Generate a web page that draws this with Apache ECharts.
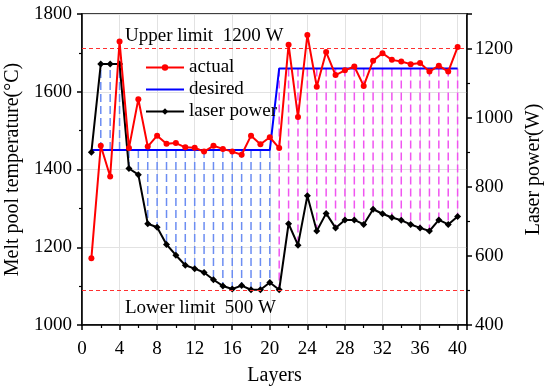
<!DOCTYPE html>
<html><head><meta charset="utf-8">
<script src="https://cdn.jsdelivr.net/npm/echarts@6/dist/echarts.min.js"></script>
<style>html,body{margin:0;padding:0;background:#fff}#c{width:550px;height:387px}</style>
</head><body><div id="c"></div>
<script>
const layers = [1,2,3,4,5,6,7,8,9,10,11,12,13,14,15,16,17,18,19,20,21,22,23,24,25,26,27,28,29,30,31,32,33,34,35,36,37,38,39,40];
const actualTemp = [1172,1461,1382,1729,1455,1581,1459,1487,1466,1468,
                    1457,1456,1446,1461,1453,1446,1438,1487,1465,1483,
                    1455,1721,1535,1746,1613,1702,1643,1655,1665,1615,
                    1680,1699,1682,1678,1671,1674,1652,1667,1652,1715];
const desiredTemp = [1450,1450,1450,1450,1450,1450,1450,1450,1450,1450,
                     1450,1450,1450,1450,1450,1450,1450,1450,1450,1450,
                     1660,1660,1660,1660,1660,1660,1660,1660,1660,1660,
                     1660,1660,1660,1660,1660,1660,1660,1660,1660,1660];
const laserPower = [900,1155,1155,1155,853,835,693,683,633,602,
                    573,563,552,531,513,504,514,502,502,523,
                    502,693,631,774,672,723,681,704,704,691,
                    735,722,711,703,691,681,672,704,691,714];
const limitValues = [1200, 500];
const limitLabels = ['Upper limit  1200 W', 'Lower limit  500 W'];
const seriesNames = ['actual', 'desired', 'laser power'];
const phaseSplit = 20; // layers 1-20 phase 1, 21-40 phase 2

const FONT = 'Liberation Serif';
const chart = echarts.init(document.getElementById('c'));

function dashData(from, to) {
  const out = [];
  for (let i = from; i < to; i++) out.push([layers[i], desiredTemp[i], laserPower[i]]);
  return out;
}
function dashRender(color) {
  return function (params, api) {
    const top = api.coord([api.value(0), api.value(1)]);
    const py = chart.convertToPixel({yAxisIndex: 1}, api.value(2));
    return {
      type: 'line',
      shape: {x1: top[0], y1: top[1], x2: top[0], y2: py},
      style: {stroke: color, lineWidth: 1.5, lineDash: [8, 4]}
    };
  };
}
const plain = v => String(v);

const axisCommon = {
  axisLine: {show: true, lineStyle: {color: '#000', width: 1.5}},
  axisTick: {show: true, length: 5, lineStyle: {color: '#000', width: 1.5}},
  minorTick: {show: true, splitNumber: 2, length: 3, lineStyle: {color: '#000', width: 1.2}},
  axisLabel: {color: '#000', fontSize: 19, fontFamily: FONT, showMaxLabel: false, formatter: plain},
  nameTextStyle: {color: '#000', fontSize: 20, fontFamily: FONT}
};

// plain horizontal line legend icon (bounding corners keep the box size)
const lineIcon = 'path://M0,0L0.01,0L0,0.01ZM0,3L38,3L38,5L0,5ZM38,8L37.99,8L38,7.99Z';

chart.setOption({
  animation: false,
  backgroundColor: '#fff',
  textStyle: {fontFamily: FONT},
  grid: {left: 82, right: 83, top: 14, bottom: 62, show: true, borderColor: '#000', borderWidth: 1.5,
         backgroundColor: 'transparent', containLabel: false, outerBoundsMode: 'none'},
  legend: {
    data: [
      {name: seriesNames[0]},
      {name: seriesNames[1], icon: lineIcon},
      {name: seriesNames[2]}
    ],
    orient: 'vertical', left: 145, top: 58, padding: 0,
    itemWidth: 38, itemHeight: 8, itemGap: 3,
    textStyle: {color: '#000', fontSize: 19, fontFamily: FONT}
  },
  xAxis: Object.assign({}, axisCommon, {
    type: 'value', min: 0, max: 41, interval: 4,
    axisLabel: Object.assign({}, axisCommon.axisLabel, {margin: 15}),
    splitLine: {show: true, lineStyle: {color: '#e2e2e2', width: 1}},
    name: 'Layers', nameLocation: 'middle', nameGap: 41
  }),
  yAxis: [
    Object.assign({}, axisCommon, {
      type: 'value', min: 1000, max: 1800, interval: 200, position: 'left',
      axisLabel: Object.assign({}, axisCommon.axisLabel, {margin: 10, showMaxLabel: true}),
      splitLine: {show: true, lineStyle: {color: '#e2e2e2', width: 1}},
      name: 'Melt pool temperature(°C)', nameLocation: 'middle', nameGap: 48
    }),
    Object.assign({}, axisCommon, {
      type: 'value', min: 400, max: 1300, interval: 200, position: 'right',
      axisLabel: Object.assign({}, axisCommon.axisLabel, {margin: 8}),
      splitLine: {show: false},
      name: 'Laser power(W)', nameLocation: 'middle', nameGap: 57
    })
  ],
  series: [
    {type: 'custom', name: 'dash1', silent: true, z: 1, xAxisIndex: 0, yAxisIndex: 0,
     data: dashData(0, phaseSplit), renderItem: dashRender('#6c8df2')},
    {type: 'custom', name: 'dash2', silent: true, z: 1, xAxisIndex: 0, yAxisIndex: 0,
     data: dashData(phaseSplit, layers.length), renderItem: dashRender('#f055f0')},
    {type: 'line', name: 'desired', yAxisIndex: 0, z: 3, symbol: 'none',
     data: layers.map((l, i) => [l, desiredTemp[i]]),
     lineStyle: {color: '#0000ff', width: 2}, itemStyle: {color: '#0000ff'}},
    {type: 'line', name: 'laser power', yAxisIndex: 1, z: 4, symbol: 'diamond', symbolSize: 7,
     data: layers.map((l, i) => [l, laserPower[i]]),
     lineStyle: {color: '#000', width: 2}, itemStyle: {color: '#000'},
     markLine: {
       silent: true, symbol: 'none',
       lineStyle: {color: '#ff3030', type: [4, 3], width: 1},
       label: {show: true, color: '#000', fontSize: 19, fontFamily: FONT},
       data: limitValues.map((v, i) => ({
         yAxis: v,
         label: {show: true, position: i === 0 ? 'insideStartTop' : 'insideStartBottom',
                 formatter: limitLabels[i], distance: i === 0 ? [43, 3] : [43, 8],
                 color: '#000', fontSize: 19, fontFamily: FONT}
       }))
     }},
    {type: 'line', name: 'actual', yAxisIndex: 0, z: 5, symbol: 'circle', symbolSize: 6,
     data: layers.map((l, i) => [l, actualTemp[i]]),
     lineStyle: {color: '#ff0000', width: 2}, itemStyle: {color: '#ff0000'}}
  ]
});
</script></body></html>
